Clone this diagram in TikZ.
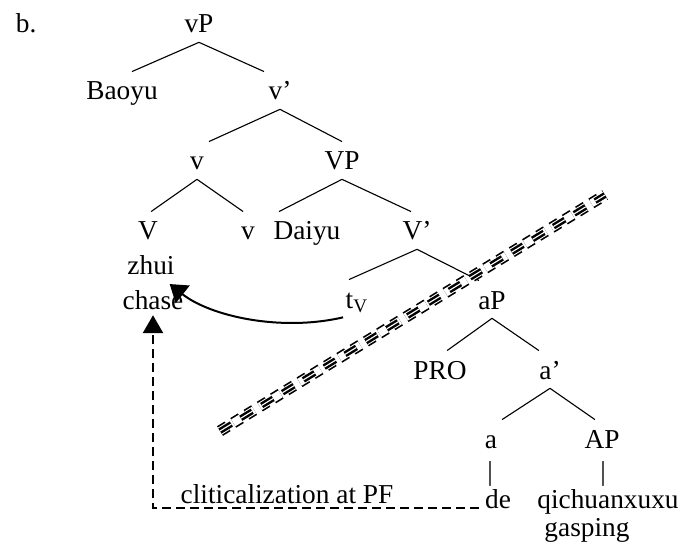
\documentclass[tikz,border=0pt]{standalone}
\usepackage{fontspec}
\setmainfont{Liberation Serif}
\usetikzlibrary{arrows.meta}

\begin{document}
\begin{tikzpicture}[x=0.45pt, y=-0.45pt,
		font=\fontsize{12.3pt}{14pt}\selectfont,
		cat/.style={anchor=base, inner sep=1pt, text height=11.6pt, text depth=3pt},
		word/.style={anchor=base, inner sep=2.5pt},
		branch/.style={line width=0.5pt},
		move/.style={line width=0.9pt, -{Triangle[width=10pt, length=7.5pt]}},
		pfmove/.style={line width=0.9pt, dash pattern=on 4pt off 2.3pt, -{Triangle[width=9pt, length=8pt]}},
		cut edge/.style={line width=0.75pt, double distance=3.6pt, dash pattern=on 4pt off 3pt},
		cut core/.style={line width=1.1pt, double distance=0.5pt, dash pattern=on 6pt off 5pt}]
		\useasboundingbox (0,0) rectangle (682,557);
		
		% Example label
		\node[word, anchor=base west] (ex) at (10,33) {b.};
		
		% Tree nodes
		\node[cat] (vP) at (199,33) {vP};
		\node[cat] (baoyu) at (122,100) {Baoyu};
		\node[cat] (vbar) at (280,100) {v'};
		\node[cat] (vv) at (197,170) {v};
		\node[cat] (VP) at (342,170) {VP};
		\node[cat] (V) at (148,240) {V};
		\node[cat] (vlow) at (248,240) {v};
		\node[cat] (daiyu) at (307,240) {Daiyu};
		\node[cat] (Vbar) at (417,240) {V'};
		\node[cat] (tv) at (357,308) {t\textsubscript{V}};
		\node[cat] (aP) at (492,309) {aP};
		\node[cat] (PRO) at (440,379) {PRO};
		\node[cat] (abar) at (550,379) {a'};
		\node[cat] (a) at (491,448) {a};
		\node[cat] (AP) at (602,448) {AP};
		
		% Words under the heads
		\node[word] (zhui) at (151,275) {zhui};
		\node[word] (chase) at (153,309) {chase};
		\node[word] (bara) at (490,480) {|};
		\node[word] (barAP) at (603,480) {|};
		\node[word] (de) at (498,508) {de};
		\node[word] (qich) at (608,508) {qichuanxuxu};
		\node[word] (gasp) at (587,536) {gasping};
		\node[word] (clit) at (287,503) {cliticalization at PF};
		
		% Branches (parent/child/shift of the lower end)
		\foreach \p/\c/\s in {vP/baoyu/4.5, vP/vbar/-7.2, vbar/vv/5.4, vbar/VP/0,
			vv/V/1.4, vv/vlow/-2.2, VP/daiyu/-12.6, VP/Vbar/-2.7,
			Vbar/tv/-3.6, Vbar/aP/-5.9, aP/PRO/3.2, aP/abar/-5, abar/a/5, abar/AP/-3.2}
			\draw[branch] (\p.south) -- ([xshift=\s pt]\c.north);
		
		% Cut through the tree
		\coordinate (cutA) at (220,431);
		\coordinate (cutB) at (605,195);
		\draw[cut edge] (cutA) -- (cutB);
		\draw[cut core] (cutA) -- (cutB);
		
		% Head movement and PF cliticization
		\draw[move] (tv.south west) .. controls (280,332) and (210,316) .. ([xshift=7.5pt]chase.north);
		\draw[pfmove] (de.base west) -| (chase.south);
	\end{tikzpicture}
\end{document}
